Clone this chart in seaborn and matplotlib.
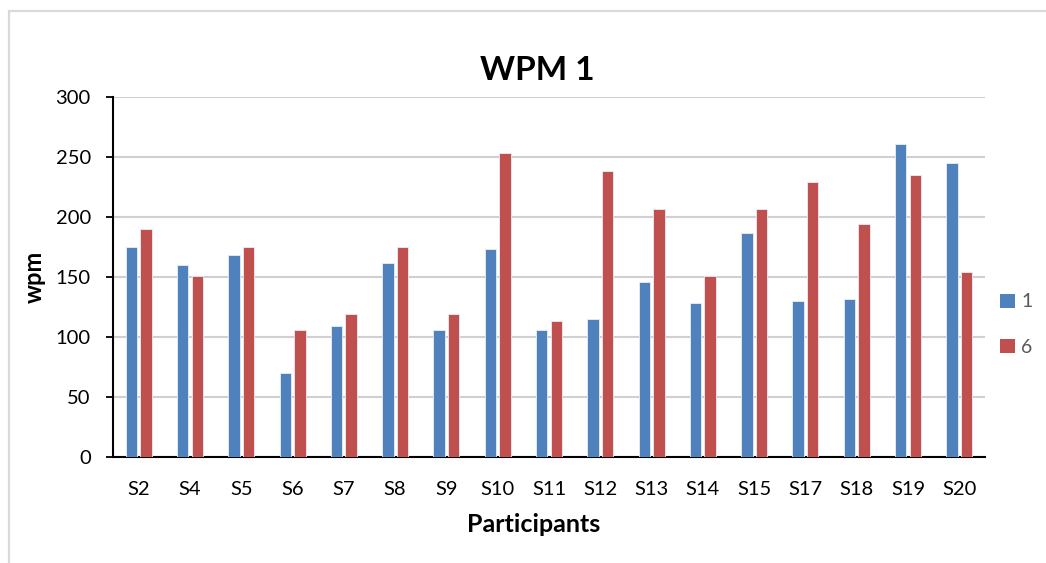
import matplotlib
matplotlib.use("Agg")
import matplotlib.pyplot as plt
from matplotlib.patches import Patch, Rectangle
import seaborn as sns
import pandas as pd

participants = ["S2", "S4", "S5", "S6", "S7", "S8", "S9", "S10", "S11",
                "S12", "S13", "S14", "S15", "S17", "S18", "S19", "S20"]
wpm_session1 = [175, 160, 168, 70, 109, 162, 106, 173, 106,
                115, 146, 128, 187, 130, 132, 261, 245]
wpm_session6 = [190, 151, 175, 106, 119, 175, 119, 253, 113,
                238, 207, 151, 207, 229, 194, 235, 154]
series_names = ["1", "6"]
colors = {"1": "#4F81BD", "6": "#C0504D"}

df = pd.DataFrame({
    "participant": participants * 2,
    "session": [series_names[0]] * len(participants) + [series_names[1]] * len(participants),
    "wpm": wpm_session1 + wpm_session6,
})

sns.set_theme(style="white")
plt.rcParams["font.family"] = ["Lato", "DejaVu Sans"]

W, H = 1046, 563
fig = plt.figure(figsize=(W / 100, H / 100), dpi=100)
ax = fig.add_axes([113 / W, 1 - 457 / H, (985 - 113) / W, (457 - 97) / H])

# outer chart frame (light gray, partly clipped by the figure edge)
fig.patches.append(Rectangle((9 / W, -0.1), 1.2, (563 - 11) / H + 0.1,
                             transform=fig.transFigure, fill=False,
                             edgecolor="#D9D9D9", linewidth=1.6, zorder=0))

sns.barplot(data=df, x="participant", y="wpm", hue="session",
            order=participants, hue_order=series_names, palette=colors,
            width=0.57, gap=0.22, errorbar=None, ax=ax, legend=False,
            edgecolor="#E8EEF7", linewidth=0.6, saturation=1, zorder=3)

ax.set_ylim(0, 300)
ax.set_xlim(-0.5, len(participants) - 0.5)
ax.set_yticks(range(0, 301, 50))
ax.yaxis.grid(True, color="#D0D0D0", linewidth=1.5, zorder=0)
ax.set_axisbelow(True)

for s in ["top", "right"]:
    ax.spines[s].set_visible(False)
for s in ["left", "bottom"]:
    ax.spines[s].set_color("black")
    ax.spines[s].set_linewidth(1.5)

ax.tick_params(axis="y", which="major", length=5, width=1.3, color="black",
               left=True, pad=11, labelsize=14.5, labelcolor="black")
ax.tick_params(axis="x", length=0, pad=17, labelsize=14.5, labelcolor="black")

ax.set_xlabel("Participants", fontsize=18, fontweight="bold", color="black")
ax.xaxis.set_label_coords((534 - 113) / 872, -(513 - 457) / 360)
ax.set_ylabel("wpm", fontsize=17, fontweight="bold", labelpad=7, color="black")

fig.text(537 / W, 1 - 80 / H, "WPM 1", ha="center", va="baseline",
         fontsize=24, fontweight="bold", color="black")

handles = [Patch(facecolor=colors[n], edgecolor="none", label=n) for n in series_names]
leg = fig.legend(handles=handles, loc="center left",
                 bbox_to_anchor=(1000 / W, 1 - 324.5 / H), frameon=False,
                 fontsize=14, handlelength=0.75, handleheight=0.75,
                 handletextpad=0.35, labelspacing=1.45, borderpad=0,
                 borderaxespad=0)
for t in leg.get_texts():
    t.set_color("#595959")

fig.savefig("out.png", dpi=100)
